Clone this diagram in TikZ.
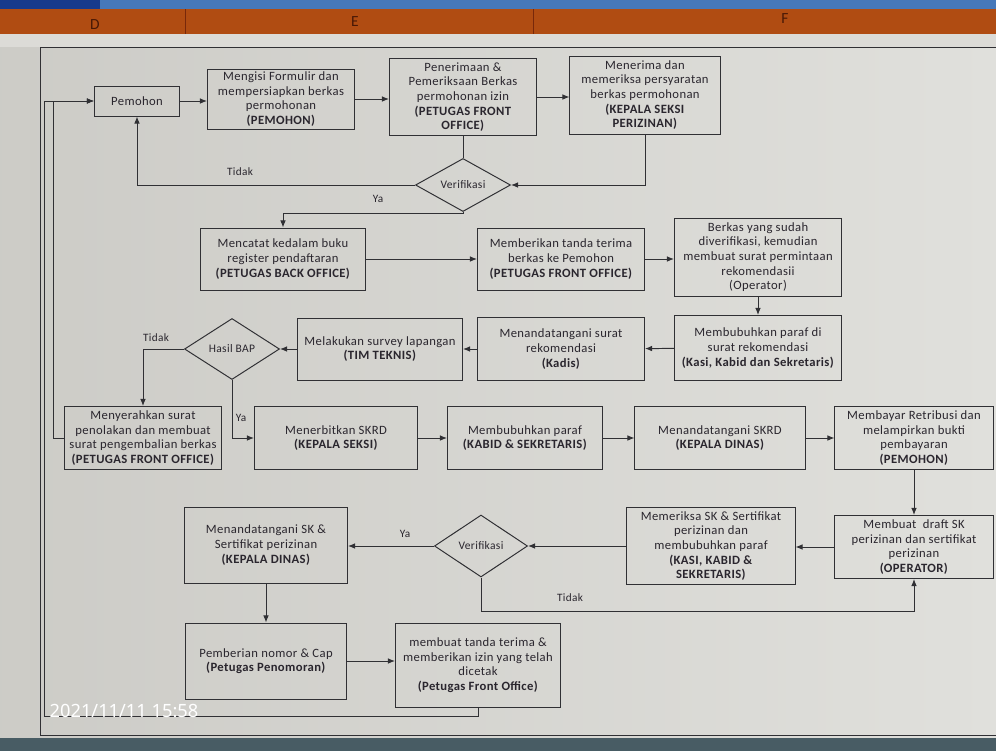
\documentclass[tikz,border=0pt]{standalone}
\usepackage{fontspec}
\setmainfont{Carlito}[LetterSpace=3]
\newfontfamily\stampfont{Noto Sans}
\usepackage{xcolor}
\usetikzlibrary{arrows.meta,shapes.geometric,calc}

\definecolor{paper}{RGB}{213,212,207}
\definecolor{paperlight}{RGB}{224,224,220}
\definecolor{ink}{RGB}{48,48,52}
\definecolor{txt}{RGB}{42,38,46}
\definecolor{hdr}{RGB}{176,76,18}
\definecolor{hdrline}{RGB}{120,40,10}
\definecolor{topblue}{RGB}{70,120,185}
\definecolor{darkblue}{RGB}{22,58,140}
\definecolor{bezel}{RGB}{72,92,100}

\begin{document}
\begin{tikzpicture}[
  x=0.025cm, y=-0.025cm,
  >={Latex[length=5pt,width=4pt]},
  box/.style={draw=ink, line width=0.7pt, align=center, text=txt, inner sep=1pt,
    font=\fontsize{9}{10.4}\selectfont, minimum width=4.15cm, minimum height=1.575cm},
  dec/.style={draw=ink, line width=0.7pt, diamond, inner sep=0pt, text=txt,
    font=\fontsize{8.2}{9.6}\selectfont},
  flow/.style={->, draw=ink, line width=0.7pt},
  lbl/.style={text=txt, font=\fontsize{8}{9}\selectfont},
  col/.style={text=hdrline!60!black, font=\fontsize{11}{12}\selectfont},
  stamp/.style={text=white, font=\stampfont\fontsize{13}{15}\selectfont}
]
\clip (0,0) rectangle (996,751);
% screen and sheet
\fill[left color=paper!96!black, right color=paperlight] (0,0) rectangle (996,751);
\fill[paperlight!60!paper] (0,33) rectangle (996,47);
\fill[topblue] (0,0) rectangle (996,9);
\fill[darkblue] (0,0) rectangle (100,13);
\fill[hdr] (0,9) rectangle (996,34);
\draw[hdrline] (185,9) -- (185,34) (533,9) -- (533,34);
\node[col] (colD) at (95,25) {D};
\node[col] (colE) at (355,22) {E};
\node[col] (colF) at (785,19) {F};
\draw[ink, line width=0.6pt] (40,47) rectangle (1010,735);
\fill[bezel] (0,738) rectangle (996,751);

% row 1
\node[box, minimum width=2.125cm, minimum height=0.75cm] (pemohon) at (137,101) {Pemohon};
\node[box, minimum width=3.675cm, minimum height=1.5cm] (isi) at (281,99) {Mengisi Formulir dan\\mempersiapkan berkas\\permohonan\\\textbf{(PEMOHON)}};
\node[box, minimum width=3.675cm, minimum height=1.925cm] (terima) at (463,97) {Penerimaan \&\\Pemeriksaan Berkas\\permohonan izin\\\textbf{(PETUGAS FRONT}\\\textbf{OFFICE)}};
\node[box, minimum width=3.75cm, minimum height=1.95cm] (kasi) at (645,95) {Menerima dan\\memeriksa persyaratan\\berkas permohonan\\\textbf{(KEPALA SEKSI}\\\textbf{PERIZINAN)}};
\node[dec, minimum width=2.375cm, minimum height=1cm] (ver1) at (463,185) {Verifikasi};

% row 2
\node[box, minimum width=4.125cm, minimum height=1.55cm] (catat) at (283,259) {Mencatat kedalam buku\\register pendaftaran\\\textbf{(PETUGAS BACK OFFICE)}};
\node[box, minimum width=4.175cm, minimum height=1.55cm] (tandaterima) at (561,259) {Memberikan tanda terima\\berkas ke Pemohon\\\textbf{(PETUGAS FRONT OFFICE)}};
\node[box, minimum width=4.175cm, minimum height=1.95cm] (rekom) at (758,257) {Berkas yang sudah\\diverifikasi, kemudian\\membuat surat permintaan\\rekomendasii\\(Operator)};

% row 3
\node[box, minimum width=4.175cm, minimum height=1.625cm] (paraf1) at (758,348) {Membubuhkan paraf di\\surat rekomendasi\\\textbf{(Kasi, Kabid dan Sekretaris)}};
\node[box, minimum width=4.175cm] (kadis) at (561,349) {Menandatangani surat\\rekomendasi\\\textbf{(Kadis)}};
\node[box, minimum width=4.125cm, minimum height=1.55cm] (survey) at (380,349) {Melakukan survey lapangan\\\textbf{(TIM TEKNIS)}};
\node[dec, minimum width=2.375cm, minimum height=1.525cm] (bap) at (232,349) {Hasil BAP};

% row 4
\node[box, minimum width=3.925cm] (tolak) at (143,438) {Menyerahkan surat\\penolakan dan membuat\\surat pengembalian berkas\\\textbf{(PETUGAS FRONT OFFICE)}};
\node[box, minimum width=4.075cm] (skrd) at (336,438) {Menerbitkan SKRD\\\textbf{(KEPALA SEKSI)}};
\node[box, minimum width=3.875cm] (paraf2) at (525,438) {Membubuhkan paraf\\\textbf{(KABID \& SEKRETARIS)}};
\node[box, minimum width=4.25cm] (ttdskrd) at (720,438) {Menandatangani SKRD\\\textbf{(KEPALA DINAS)}};
\node[box, minimum width=3.95cm] (bayar) at (914,438) {Membayar Retribusi dan\\melampirkan bukti\\pembayaran\\\textbf{(PEMOHON)}};

% row 5
\node[box, minimum width=3.95cm] (draft) at (914,547) {Membuat\ \ draft SK\\perizinan dan sertifikat\\perizinan\\\textbf{(OPERATOR)}};
\node[box, minimum width=4.2cm, minimum height=1.925cm] (periksa) at (711,546) {Memeriksa SK \& Sertifikat\\perizinan dan\\membubuhkan paraf\\\textbf{(KASI, KABID \&}\\\textbf{SEKRETARIS)}};
\node[dec, minimum width=2.325cm, minimum height=1.55cm] (ver2) at (481,546) {Verifikasi};
\node[box, minimum width=4.075cm, minimum height=1.9cm] (ttdsk) at (266,545) {Menandatangani SK \&\\Sertifikat perizinan\\\textbf{(KEPALA DINAS)}};

% row 6
\node[box, minimum width=4cm, minimum height=1.9cm] (nomor) at (266,661) {Pemberian nomor \& Cap\\\textbf{(Petugas Penomoran)}};
\node[box, minimum width=4.125cm, minimum height=2.1cm] (izin) at (478,665) {membuat tanda terima \&\\memberikan izin yang telah\\dicetak\\\textbf{(Petugas Front Office)}};

% turning points
\coordinate (ya1) at (463,213);
\coordinate (tdk2) at (481,611);
\coordinate (back1) at (44,716);
\coordinate (back2) at (53,438);

% connectors
\draw[flow] (pemohon.east) -- (pemohon.east -| isi.west);
\draw[flow] (isi.east) -- (isi.east -| terima.west);
\draw[flow] (terima.east) -- (terima.east -| kasi.west);
\draw[ink, line width=0.7pt] (terima) -- (ver1);
\draw[flow] (kasi.south) |- (ver1.east);
\draw[flow] (ver1.west) -| (pemohon.south);
\draw[flow] (ver1.south) -- (ya1) -| (catat.north);
\draw[flow] (catat) -- (tandaterima);
\draw[flow] (tandaterima) -- (tandaterima -| rekom.west);
\draw[flow] (rekom) -- (paraf1);
\draw[flow] (paraf1) -- (kadis);
\draw[flow] (kadis) -- (survey);
\draw[flow] (survey) -- (bap);
\draw[flow] (bap.west) -| (tolak.north);
\draw[flow] (bap.south) |- (skrd.west);
\draw[flow] (skrd) -- (paraf2);
\draw[flow] (paraf2) -- (ttdskrd);
\draw[flow] (ttdskrd) -- (bayar);
\draw[flow] (bayar) -- (draft);
\draw[flow] (draft) -- (draft -| periksa.east);
\draw[flow] (periksa) -- (ver2);
\draw[flow] (ver2.west) -- (ver2.west -| ttdsk.east);
\draw[flow] (ver2.south) -- (tdk2) -| (draft.south);
\draw[flow] (ttdsk) -- (nomor);
\draw[flow] (nomor.east) -- (nomor.east -| izin.west);
\draw[flow] (izin.south) |- (back1) |- (pemohon.west);
\draw[flow] (tolak.west) -- (back2) |- (pemohon.west);

% branch labels
\node[lbl] (tidak1) at (240,172) {Tidak};
\node[lbl] (ya1lbl) at (378,199) {Ya};
\node[lbl] (tidak2) at (156,338) {Tidak};
\node[lbl] (ya2lbl) at (241,418) {Ya};
\node[lbl] (ya3lbl) at (405,534) {Ya};
\node[lbl] (tidak3) at (570,598) {Tidak};

\node[stamp] (stamp) at (124,711) {2021/11/11 15:58};
\end{tikzpicture}
\end{document}
